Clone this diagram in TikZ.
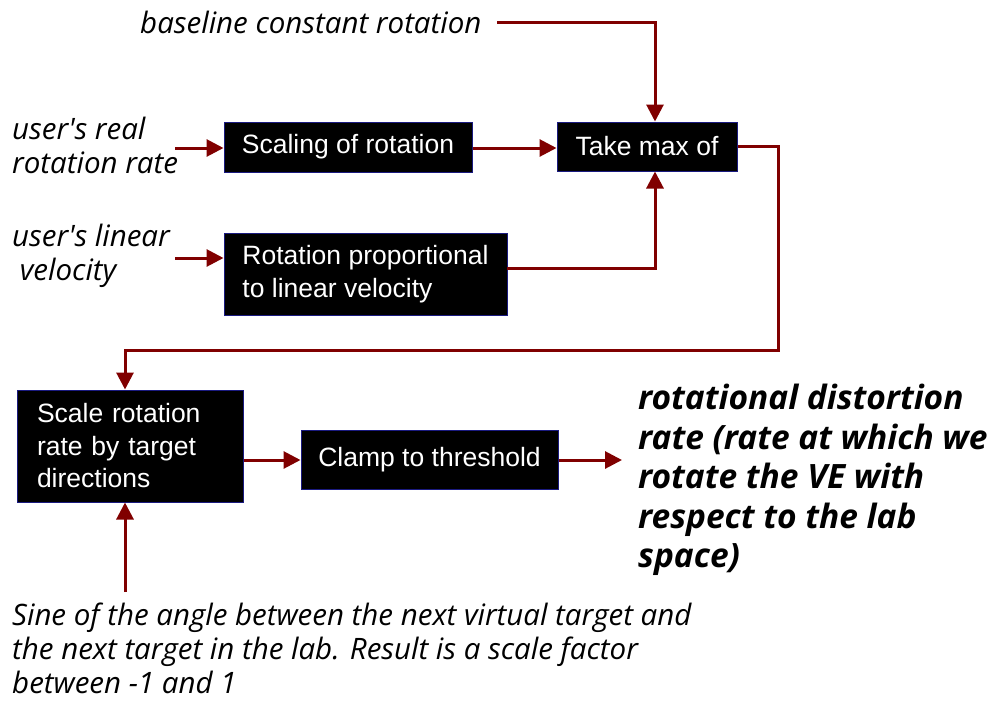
\documentclass[tikz,border=0pt]{standalone}
\usepackage{fontspec}
\setmainfont{Liberation Sans}
\newfontfamily\labfont{Open Sans}
\usetikzlibrary{arrows.meta,calc}
\definecolor{arr}{HTML}{800000}
\definecolor{bord}{HTML}{1A1A80}
\tikzset{
  procbox/.style={draw=bord, line width=1pt, fill=black, text=white, font=\fontsize{26.5}{32.5}\selectfont, inner sep=0pt},
  lab/.style={font=\labfont\itshape\fontsize{29.5}{34}\selectfont, align=left, inner sep=0pt},
  outlab/.style={font=\labfont\bfseries\itshape\fontsize{33.5}{39.5}\selectfont, align=left, inner sep=0pt},
  flow/.style={draw=arr, line width=3pt, -{Triangle[length=17pt,width=17pt]}},
  wire/.style={draw=arr, line width=3pt}
}
\begin{document}
\begin{tikzpicture}[x=1pt,y=-1pt]
\useasboundingbox (0,0) rectangle (993,702);
% boxes
\node[procbox, minimum width=248pt, minimum height=50pt] (scal) at (348,147) {Scaling of rotation};
\node[procbox, minimum width=180pt, minimum height=49pt] (take) at (647,146.5) {Take max of};
\node[procbox, minimum width=283pt, minimum height=82pt, align=left] (prop) at (365.5,274) {Rotation proportional\\to linear velocity};
\node[procbox, minimum width=226pt, minimum height=112pt, align=left, text width=186pt] (scale) at (130,446) {Scale rotation\\rate by target\\directions};
\node[procbox, minimum width=257pt, minimum height=59pt] (clamp) at (429.5,459.5) {Clamp to threshold};
% labels
\node[lab, anchor=base west] (base) at (140,33) {baseline constant rotation};
\node[lab, anchor=north west] (real) at (12,117) {user's real\\rotation rate};
\node[lab, anchor=north west] (lin) at (12,224) {user's linear\\\ velocity};
\node[lab, anchor=north west] (sine) at (12,603) {Sine of the angle between the next virtual target and\\the next target in the lab. Result is a scale factor\\between -1 and 1};
\node[outlab, anchor=north west] (out) at (638,384) {rotational distortion\\rate (rate at which we\\rotate the VE with\\respect to the lab\\space)};
% coordinates
\coordinate (b0) at (497,22);
\coordinate (b1) at (655,22);
\coordinate (r0) at (175,148);
\coordinate (l0) at (175,258);
\coordinate (p0) at (507,268);
\coordinate (p1) at (655,268);
\coordinate (t1) at (778,146);
\coordinate (t2) at (778,350);
\coordinate (t3) at (125,350);
\coordinate (s0) at (125,592);
\coordinate (o1) at (622,460);
% connectors
\draw[flow] (b0) -- (b1) -- (b1 |- take.north);
\draw[flow] (r0) -- (r0 -| scal.west);
\draw[flow] (l0) -- (l0 -| prop.west);
\draw[flow] (scal.east |- 0,148) -- (take.west |- 0,148);
\draw[flow] (p0) -- (p1) -- (p1 |- take.south);
\draw[flow] (take.east |- t1) -- (t1) -- (t2) -- (t3) -- (t3 |- scale.north);
\draw[flow] (s0) -- (s0 |- scale.south);
\draw[flow] (scale.east |- 0,460) -- (clamp.west |- 0,460);
\draw[flow] (clamp.east |- o1) -- (o1);
\end{tikzpicture}
\end{document}
